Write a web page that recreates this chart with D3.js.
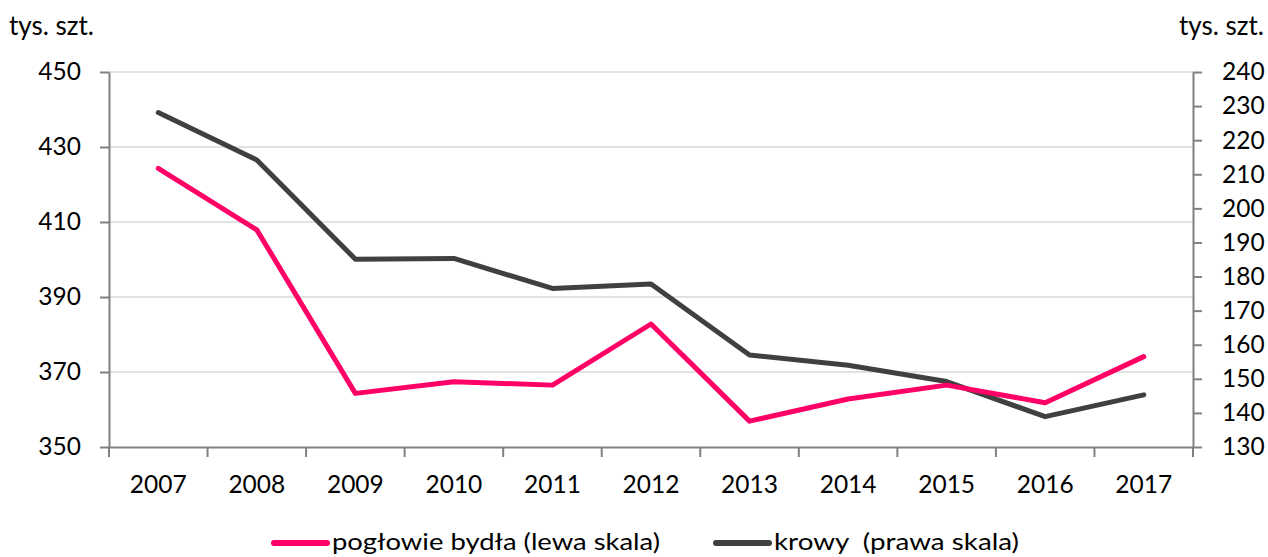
<!DOCTYPE html>
<html>
<head>
<meta charset="utf-8">
<script src="https://cdn.jsdelivr.net/npm/d3@7"></script>
<style>
  body { margin: 0; background: #fff; }
  text { font-family: Lato, "Open Sans", sans-serif; fill: #000; }
</style>
</head>
<body>
<div id="chart"></div>
<script>
var years   = ["2007","2008","2009","2010","2011","2012","2013","2014","2015","2016","2017"];
var bydlo   = [424.3, 407.9, 364.3, 367.4, 366.5, 382.8, 356.9, 362.8, 366.5, 361.8, 374.1];
var krowy   = [228.1, 214.2, 185.1, 185.3, 176.5, 177.8, 157.0, 154.0, 149.2, 138.9, 145.3];
var leftTicks  = [350, 370, 390, 410, 430, 450];
var rightTicks = [130, 140, 150, 160, 170, 180, 190, 200, 210, 220, 230, 240];
var unitLabel = "tys. szt.";
var legendNames = ["pogłowie bydła (lewa skala)", "krowy  (prawa skala)"];

var W = 1268, H = 557;
var margin = {top: 72, right: 75, bottom: 110, left: 109};
var width  = W - margin.left - margin.right;
var height = H - margin.top - margin.bottom;

var x  = d3.scaleBand().domain(years).range([0, width]);
var yL = d3.scaleLinear().domain([350, 450]).range([height, 0]);
var yR = d3.scaleLinear().domain([130, 240]).range([height, 0]);

var svg = d3.select("#chart").append("svg").attr("width", W).attr("height", H);
var g = svg.append("g").attr("transform", "translate(" + margin.left + "," + margin.top + ")");

// grid
g.append("g").selectAll("line").data(leftTicks.slice(1)).enter().append("line")
  .attr("x1", 0).attr("x2", width)
  .attr("y1", function(d) { return yL(d); }).attr("y2", function(d) { return yL(d); })
  .attr("stroke", "#d9d9d9").attr("stroke-width", 1.5);

var axisColor = "#808080";
var tickFont = 24.5;

var axL = d3.axisLeft(yL).tickValues(leftTicks).tickSizeInner(9).tickSizeOuter(0).tickPadding(19);
var gl = g.append("g").call(axL);

var axR = d3.axisRight(yR).tickValues(rightTicks).tickSizeInner(9).tickSizeOuter(0).tickPadding(20);
var gr = g.append("g").attr("transform", "translate(" + width + ",0)").call(axR);

var axX = d3.axisBottom(x).tickSize(0).tickPadding(29);
var gx = g.append("g").attr("transform", "translate(0," + height + ")").call(axX);
// tick marks at band edges
gx.selectAll(".edge").data(years.concat(["end"])).enter().append("line")
  .attr("class", "edge")
  .attr("x1", function(d, i) { return i * x.step(); }).attr("x2", function(d, i) { return i * x.step(); })
  .attr("y1", 0).attr("y2", 10);

[gl, gr, gx].forEach(function(a) {
  a.attr("font-size", tickFont).attr("font-family", null);
  a.selectAll("path.domain").attr("stroke", axisColor).attr("stroke-width", 2);
  a.selectAll("line").attr("stroke", axisColor).attr("stroke-width", 2);
});

var cx = function(d, i) { return x(years[i]) + x.bandwidth() / 2; };

var lineL = d3.line().x(cx).y(function(d) { return yL(d); });
var lineR = d3.line().x(cx).y(function(d) { return yR(d); });

g.append("path").datum(krowy).attr("d", lineR)
  .attr("fill", "none").attr("stroke", "#404040").attr("stroke-width", 5)
  .attr("stroke-linejoin", "round").attr("stroke-linecap", "round");
g.append("path").datum(bydlo).attr("d", lineL)
  .attr("fill", "none").attr("stroke", "#ff0066").attr("stroke-width", 5)
  .attr("stroke-linejoin", "round").attr("stroke-linecap", "round");

// unit labels
svg.append("text").attr("x", 9).attr("y", 35).attr("font-size", 26).text(unitLabel);
svg.append("text").attr("x", 1264).attr("y", 35).attr("font-size", 26)
  .attr("text-anchor", "end").text(unitLabel);

// legend
var legend = [
  {name: legendNames[0], color: "#ff0066", x: 274, w: 328},
  {name: legendNames[1], color: "#404040", x: 716, w: 245}
];
var lg = svg.append("g").selectAll("g").data(legend).enter().append("g")
  .attr("transform", function(d) { return "translate(" + d.x + ",543)"; });
lg.append("line").attr("x1", 0).attr("x2", 53).attr("y1", 0).attr("y2", 0)
  .attr("stroke", function(d) { return d.color; }).attr("stroke-width", 6)
  .attr("stroke-linecap", "round");
lg.append("text").attr("x", 58).attr("y", 7).attr("font-size", 24)
  .attr("textLength", function(d) { return d.w; }).attr("lengthAdjust", "spacingAndGlyphs")
  .style("white-space", "pre").text(function(d) { return d.name; });
</script>
</body>
</html>
